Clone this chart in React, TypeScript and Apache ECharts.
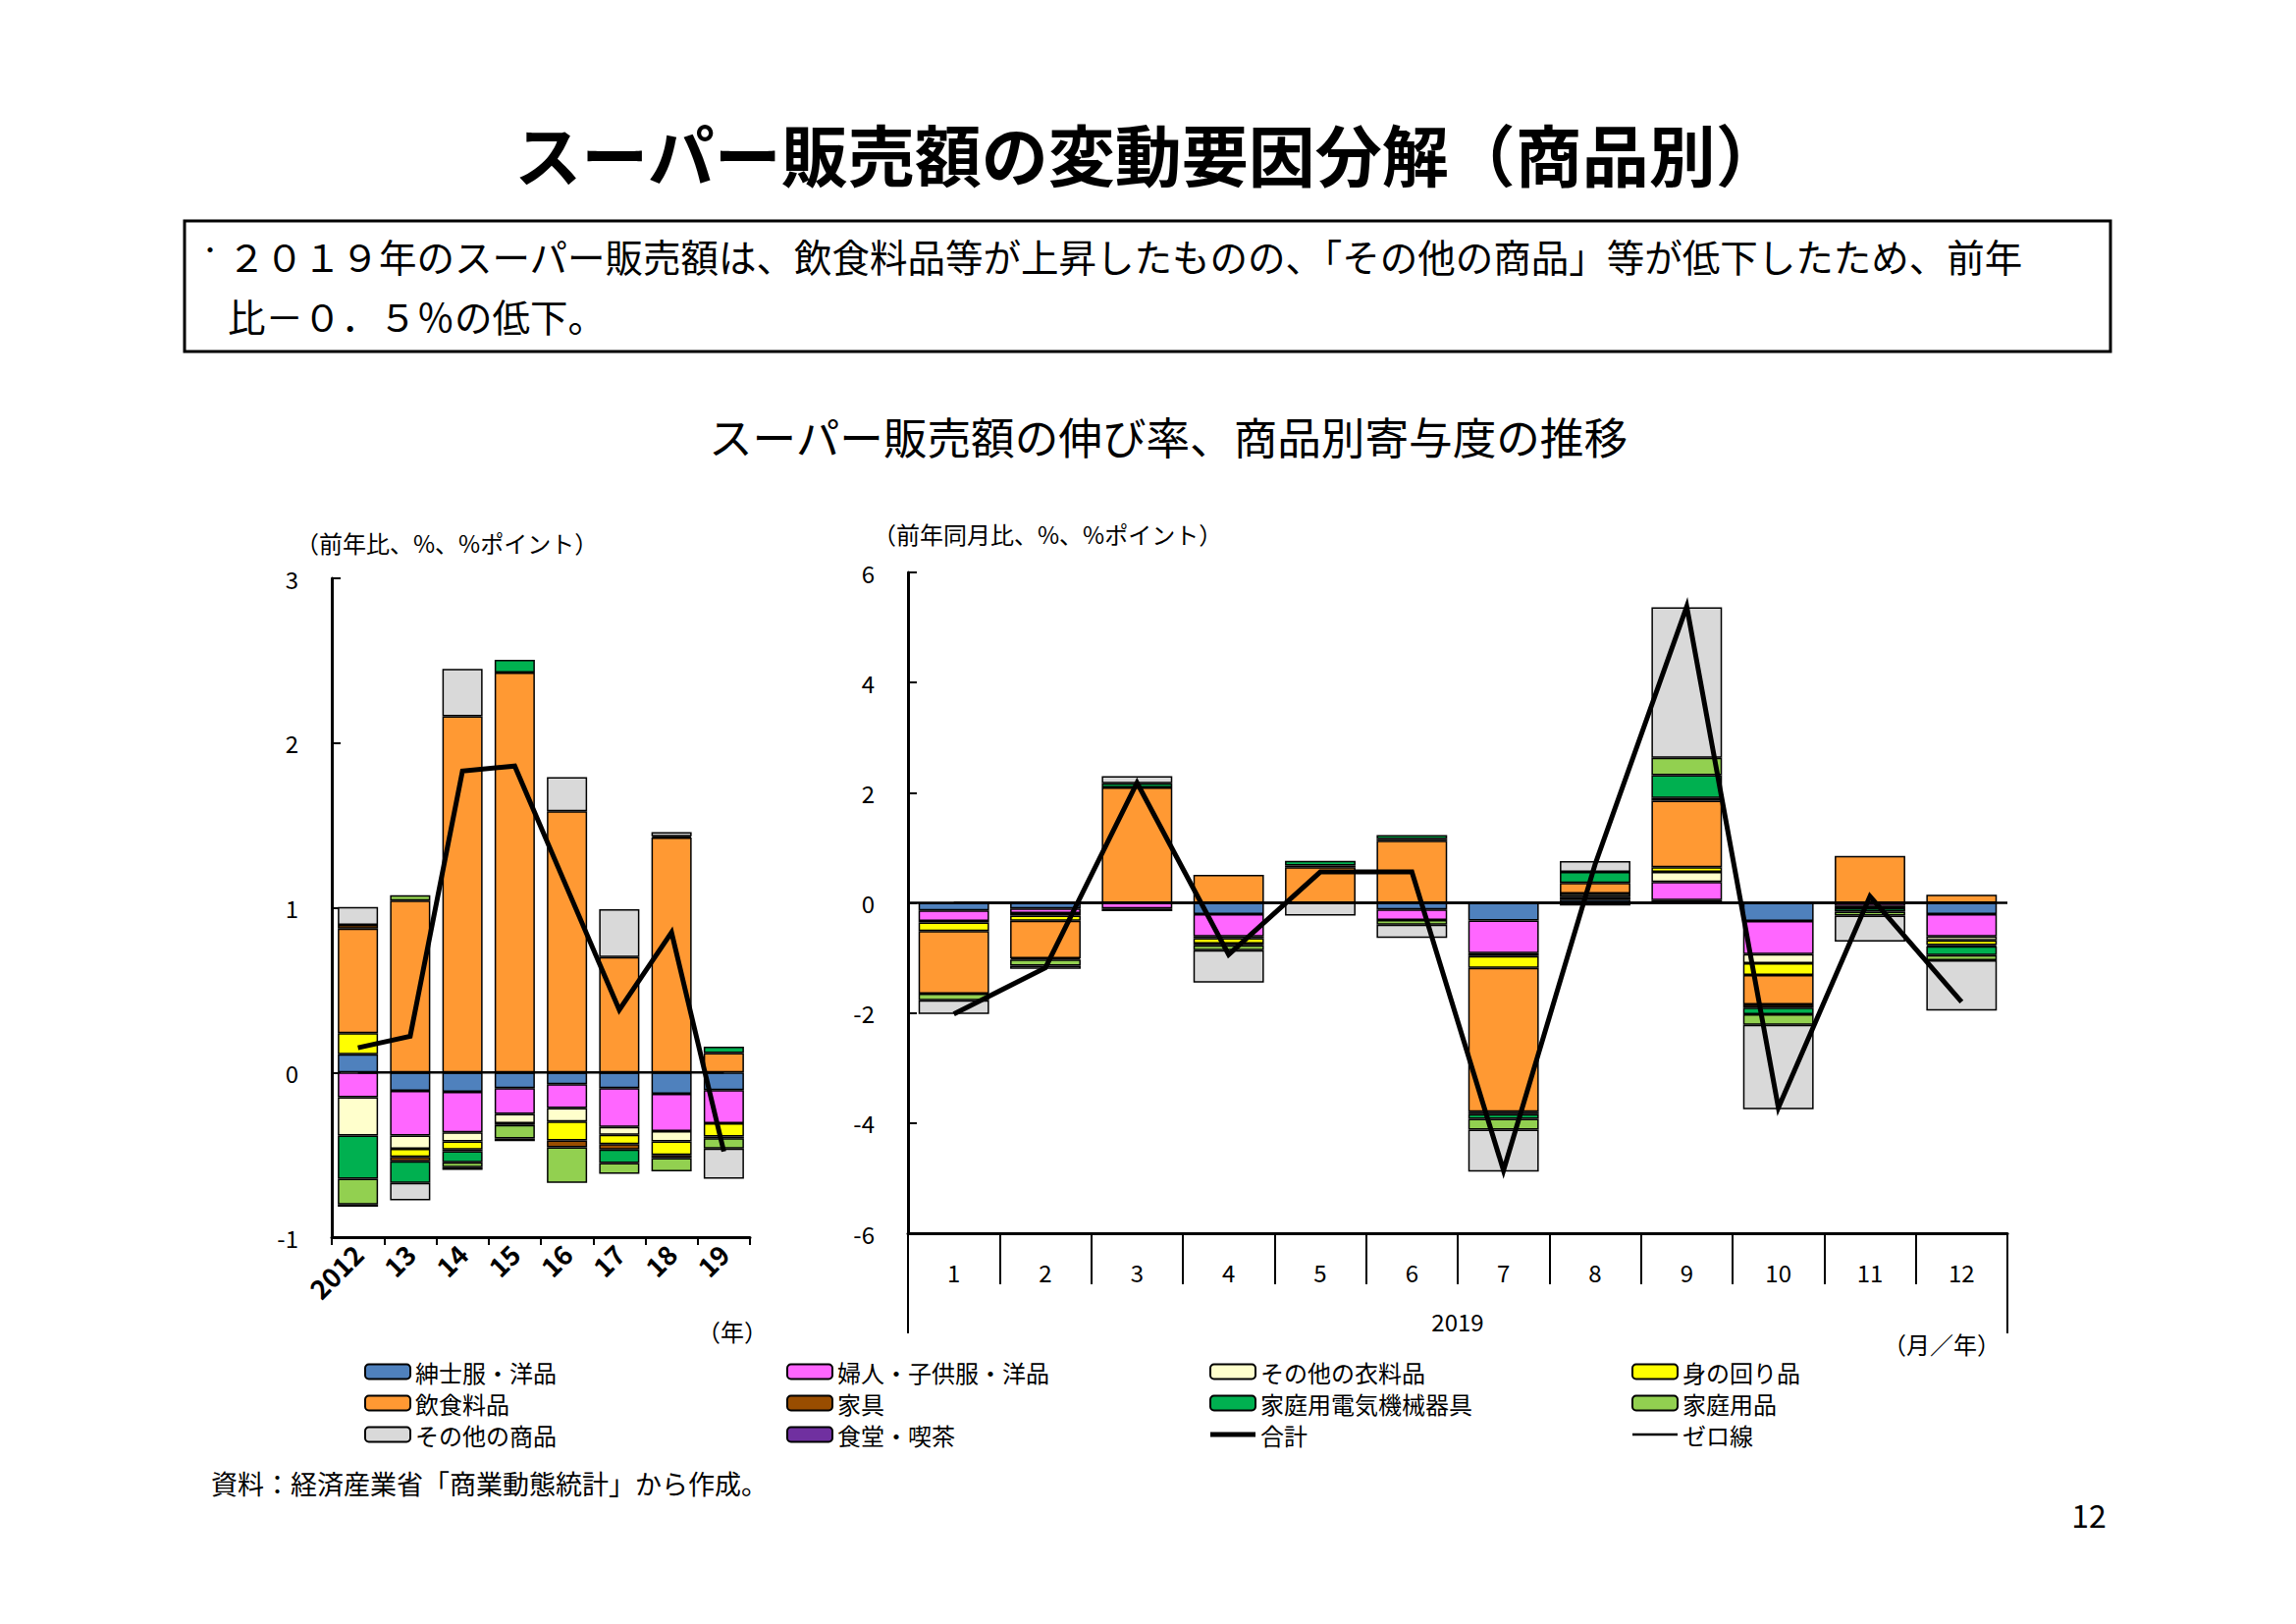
import React, { useEffect, useRef } from "react";
import * as echarts from "echarts";

// Categories
const years = ["2012", "13", "14", "15", "16", "17", "18", "19"];
const months = ["1", "2", "3", "4", "5", "6", "7", "8", "9", "10", "11", "12"];
const yearGroup = ["2019"];

// Item names (stack order) and colours
const itemNames = [
  "紳士服・洋品",
  "婦人・子供服・洋品",
  "その他の衣料品",
  "身の回り品",
  "飲食料品",
  "家具",
  "家庭用電気機械器具",
  "家庭用品",
  "その他の商品",
  "食堂・喫茶",
];
const itemColors = [
  "#4F81BD",
  "#FF66FF",
  "#FFFFCC",
  "#FFFF00",
  "#FF9933",
  "#994D00",
  "#00B050",
  "#92D050",
  "#D9D9D9",
  "#7030A0",
];

// Annual contributions (前年比, %ポイント), 2012..2019
const annMens = [0.11, -0.112, -0.118, -0.096, -0.071, -0.096, -0.129, -0.107];
const annWomens = [-0.15, -0.271, -0.246, -0.156, -0.145, -0.235, -0.227, -0.202];
const annOtherClothing = [-0.233, -0.08, -0.055, -0.057, -0.082, -0.047, -0.063, 0];
const annPersonal = [0.128, -0.049, -0.049, -0.01, -0.115, -0.057, -0.082, -0.08];
const annFood = [0.635, 1.043, 2.163, 2.428, 1.585, 0.701, 1.426, 0.118];
const annFurniture = [0.022, -0.027, -0.011, 0, -0.041, -0.033, -0.019, -0.01];
const annAppliances = [-0.263, -0.131, -0.066, 0.077, 0, -0.082, 0.008, 0.038];
const annHousehold = [-0.156, 0.033, -0.03, -0.082, -0.217, -0.066, -0.08, -0.063];
const annOtherGoods = [0.11, -0.107, 0.287, 0, 0.208, 0.29, 0.025, -0.183];
const annDining = [-0.013, 0, -0.016, -0.016, 0, 0, 0, 0];
const annTotal = [0.15, 0.22, 1.83, 1.86, 1.12, 0.38, 0.85, -0.48];

// Monthly contributions 2019 (前年同月比, %ポイント), Jan..Dec
const monMens = [-0.138, -0.103, 0, -0.207, 0, -0.12, -0.319, 0.06, 0.05, -0.328, 0, -0.207];
const monWomens = [-0.19, -0.086, -0.103, -0.405, 0, -0.19, -0.595, 0.05, 0.33, -0.603, -0.06, -0.405];
const monOtherClothing = [-0.03, -0.043, 0, -0.03, 0, 0, -0.052, 0.06, 0.18, -0.164, 0, -0.07];
const monPersonal = [-0.155, -0.095, -0.05, -0.1, 0, 0, -0.216, -0.05, 0.086, -0.216, -0.04, -0.086];
const monFood = [-1.138, -0.681, 2.095, 0.509, 0.647, 1.13, -2.612, 0.19, 1.207, -0.534, 0.853, 0.147];
const monFurniture = [0, 0, 0, 0, 0.03, 0.03, -0.043, 0, 0.05, -0.06, 0, -0.02];
const monAppliances = [0, -0.02, 0.078, -0.03, 0.086, 0.07, -0.086, 0.2, 0.414, -0.12, -0.06, -0.16];
const monHousehold = [-0.12, -0.112, 0, -0.09, 0, -0.086, -0.198, 0, 0.319, -0.19, -0.07, -0.095];
const monOtherGoods = [-0.25, -0.06, 0.129, -0.586, -0.233, -0.241, -0.759, 0.2, 2.733, -1.534, -0.474, -0.914];
const monDining = [0, 0, 0, 0, 0, 0, 0, 0, 0, 0, 0, 0];
const monTotal = [-2.02, -1.18, 2.18, -0.94, 0.56, 0.56, -4.86, 0.7, 5.38, -3.72, 0.12, -1.8];

// Axis tick settings
const annualMin = -1;
const annualMax = 3;
const annualStep = 1;
const monthlyMin = -6;
const monthlyMax = 6;
const monthlyStep = 2;

const annualItems = [
  annMens, annWomens, annOtherClothing, annPersonal, annFood,
  annFurniture, annAppliances, annHousehold, annOtherGoods, annDining,
];
const monthlyItems = [
  monMens, monWomens, monOtherClothing, monPersonal, monFood,
  monFurniture, monAppliances, monHousehold, monOtherGoods, monDining,
];

const FONT = "'Noto Sans CJK JP', 'Noto Sans', sans-serif";
const W = 2339;
const H = 1654;

const blankZero = (arr: number[]) => arr.map((v) => (v === 0 ? "-" : v));

// Legend glyphs for the two line series: a thick bar and a thin bar
const THICK_LINE_ICON = "path://M0,0H46V5H0Z";
const THIN_LINE_ICON = "path://M0,0H46V2.6H0Z";

function buildOption(): echarts.EChartsOption {
  const barSeries: any[] = [];
  itemNames.forEach((name, i) => {
    const itemStyle = { color: itemColors[i], borderColor: "#000", borderWidth: 1.5 };
    barSeries.push({
      name,
      type: "bar",
      stack: "annual",
      xAxisIndex: 0,
      yAxisIndex: 0,
      barWidth: "77%",
      itemStyle,
      data: blankZero(annualItems[i]),
    });
    barSeries.push({
      name,
      type: "bar",
      stack: "monthly",
      xAxisIndex: 1,
      yAxisIndex: 1,
      barWidth: "77%",
      itemStyle,
      data: blankZero(monthlyItems[i]),
    });
  });

  const lineSeries: any[] = [
    {
      name: "ゼロ線",
      type: "line",
      xAxisIndex: 0,
      yAxisIndex: 0,
      symbol: "none",
      lineStyle: { color: "#000", width: 2.5 },
      itemStyle: { color: "#000" },
      data: years.map(() => 0),
      z: 4,
    },
    {
      name: "ゼロ線",
      type: "line",
      xAxisIndex: 1,
      yAxisIndex: 1,
      symbol: "none",
      lineStyle: { color: "#000", width: 2.5 },
      itemStyle: { color: "#000" },
      data: months.map(() => 0),
      markLine: {
        silent: true,
        symbol: "none",
        label: { show: false },
        lineStyle: { color: "#000", width: 2.5, type: "solid" },
        data: [{ yAxis: 0 }],
      },
      z: 4,
    },
    {
      name: "合計",
      type: "line",
      xAxisIndex: 0,
      yAxisIndex: 0,
      symbol: "none",
      lineStyle: { color: "#000", width: 5, join: "miter" },
      itemStyle: { color: "#000" },
      data: annTotal,
      z: 5,
    },
    {
      name: "合計",
      type: "line",
      xAxisIndex: 1,
      yAxisIndex: 1,
      symbol: "none",
      lineStyle: { color: "#000", width: 5, join: "miter" },
      itemStyle: { color: "#000" },
      data: monTotal,
      z: 5,
    },
  ];

  const lineIcons: Record<string, string> = {
    "合計": THICK_LINE_ICON,
    "ゼロ線": THIN_LINE_ICON,
  };

  const legendCols = [
    { left: 371, names: ["紳士服・洋品", "飲食料品", "その他の商品"] },
    { left: 801, names: ["婦人・子供服・洋品", "家具", "食堂・喫茶"] },
    { left: 1232, names: ["その他の衣料品", "家庭用電気機械器具", "合計"] },
    { left: 1662, names: ["身の回り品", "家庭用品", "ゼロ線"] },
  ];

  const legends = legendCols.map((c) => ({
    orient: "vertical",
    left: c.left,
    top: 1384,
    itemWidth: 46,
    itemHeight: 15,
    itemGap: 6,
    selectedMode: false,
    padding: 0,
    textStyle: { fontFamily: FONT, fontSize: 24, color: "#000", lineHeight: 26 },
    itemStyle: { borderColor: "#000", borderWidth: 2 },
    data: c.names.map((n) =>
      lineIcons[n]
        ? { name: n, icon: lineIcons[n], itemStyle: { color: "#000", borderWidth: 0 } }
        : { name: n }
    ),
  }));

  const text = (
    x: number,
    y: number,
    str: string,
    size: number,
    align: string = "center",
    weight: string = "normal"
  ) => ({
    type: "text",
    x,
    y,
    silent: true,
    style: {
      text: str,
      fill: "#000",
      font: `${weight} ${size}px ${FONT}`,
      align,
      verticalAlign: "middle",
    },
  });

  return {
    animation: false,
    backgroundColor: "#fff",
    grid: [
      { left: 338, top: 589, width: 426, height: 671 },
      { left: 925, top: 583, width: 1120, height: 673 },
    ],
    xAxis: [
      {
        type: "category",
        gridIndex: 0,
        data: years,
        position: "bottom",
        axisLine: { onZero: false, lineStyle: { color: "#000", width: 3 } },
        axisTick: { show: true, length: 8, lineStyle: { color: "#000", width: 2 } },
        axisLabel: {
          rotate: 45,
          margin: 12,
          color: "#000",
          fontFamily: FONT,
          fontSize: 27,
          fontWeight: "bold",
        },
      },
      {
        type: "category",
        gridIndex: 1,
        data: months,
        position: "bottom",
        axisLine: { onZero: false, lineStyle: { color: "#000", width: 3 } },
        axisTick: { show: true, interval: 0, length: 52, lineStyle: { color: "#000", width: 2 } },
        axisLabel: {
          margin: 27,
          interval: 0,
          color: "#000",
          fontFamily: FONT,
          fontSize: 24,
        },
      },
      {
        type: "category",
        gridIndex: 1,
        data: yearGroup,
        position: "bottom",
        axisLine: { show: false, onZero: false },
        axisTick: { show: true, length: 102, lineStyle: { color: "#000", width: 2 } },
        axisLabel: {
          margin: 77,
          color: "#000",
          fontFamily: FONT,
          fontSize: 24,
        },
      },
    ],
    yAxis: [
      {
        type: "value",
        gridIndex: 0,
        min: annualMin,
        max: annualMax,
        interval: annualStep,
        splitLine: { show: false },
        axisLine: { show: true, lineStyle: { color: "#000", width: 3 } },
        axisTick: { show: true, inside: true, length: 9, lineStyle: { color: "#000", width: 2 } },
        axisLabel: { margin: 34, color: "#000", fontFamily: FONT, fontSize: 24 },
      },
      {
        type: "value",
        gridIndex: 1,
        min: monthlyMin,
        max: monthlyMax,
        interval: monthlyStep,
        splitLine: { show: false },
        axisLine: { show: true, lineStyle: { color: "#000", width: 3 } },
        axisTick: { show: true, inside: true, length: 9, lineStyle: { color: "#000", width: 2 } },
        axisLabel: { margin: 34, color: "#000", fontFamily: FONT, fontSize: 24 },
      },
    ],
    legend: legends as any,
    series: [...barSeries, ...lineSeries],
    graphic: [
      text(1170, 155, "スーパー販売額の変動要因分解（商品別）", 68, "center", "bold"),
      {
        type: "rect",
        silent: true,
        shape: { x: 188, y: 225, width: 1962, height: 133 },
        style: { fill: "none", stroke: "#000", lineWidth: 3 },
      },
      text(202, 252, "・", 24, "left"),
      text(
        232,
        260,
        "２０１９年のスーパー販売額は、飲食料品等が上昇したものの、「その他の商品」等が低下したため、前年",
        38.5,
        "left"
      ),
      text(232, 321, "比－０．５％の低下。", 38.5, "left"),
      text(1190, 443, "スーパー販売額の伸び率、商品別寄与度の推移", 44.6),
      text(301, 552, "（前年比、%、%ポイント）", 24, "left"),
      text(889, 543, "（前年同月比、%、%ポイント）", 24, "left"),
      text(746, 1355, "（年）", 24),
      text(1978, 1368, "（月／年）", 24),
      text(215, 1510, "資料：経済産業省「商業動態統計」から作成。", 27, "left"),
      text(2128, 1542, "12", 32),
    ] as any,
  };
}

export default function App() {
  const ref = useRef<HTMLDivElement>(null);
  useEffect(() => {
    if (!ref.current) return;
    const chart = echarts.init(ref.current, undefined, { renderer: "svg" });
    chart.setOption(buildOption());
    return () => chart.dispose();
  }, []);
  return (
    <div
      ref={ref}
      style={{ position: "fixed", left: 0, top: 0, width: W, height: H, background: "#fff" }}
    />
  );
}
